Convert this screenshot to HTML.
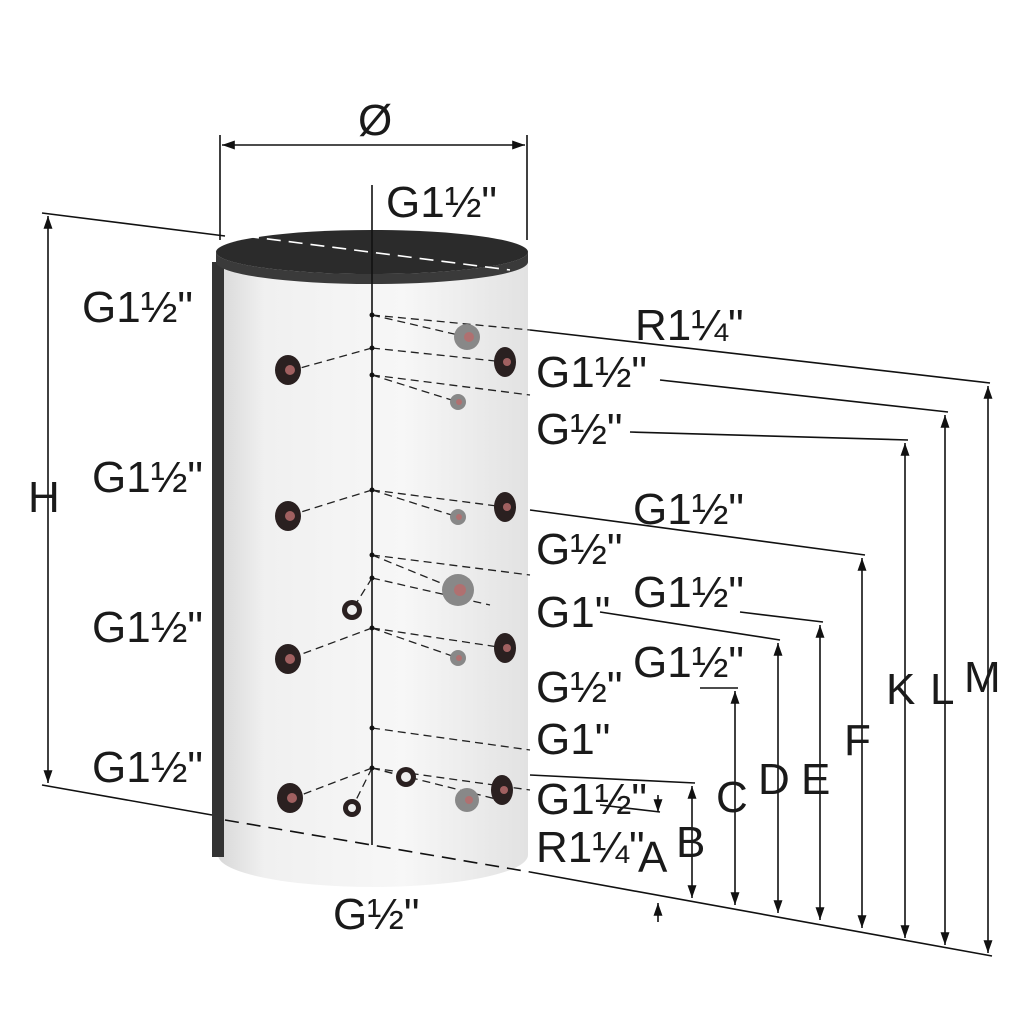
<!DOCTYPE html>
<html><head><style>
html,body{margin:0;padding:0;background:#fff;}
svg{display:block}
text{font-family:"Liberation Sans",sans-serif;font-size:44px;fill:#1a1a1a}
</style></head><body>
<svg width="1024" height="1024" viewBox="0 0 1024 1024" xmlns="http://www.w3.org/2000/svg">
<defs>
<linearGradient id="body" x1="0" x2="1" y1="0" y2="0">
<stop offset="0" stop-color="#d8d8d8"/><stop offset="0.15" stop-color="#f0f0f0"/><stop offset="0.6" stop-color="#f7f7f7"/><stop offset="1" stop-color="#e2e2e2"/>
</linearGradient>
<marker id="ar" viewBox="0 0 10 10" refX="10" refY="5" markerWidth="8" markerHeight="8" orient="auto-start-reverse"><path d="M0,1.5 L10,5 L0,8.5 Z" fill="#111"/></marker>
</defs>
<path d="M218,258 L528,258 L528,855 A155,32 0 0 1 218,855 Z" fill="url(#body)"/>
<rect x="212" y="262" width="12" height="595" fill="#333"/>
<path d="M216,252 A156,22 0 0 0 528,252 L528,262 A156,22 0 0 1 216,262Z" fill="#3a3a3a"/>
<ellipse cx="372" cy="252" rx="156" ry="22" fill="#2b2b2b"/>
<g stroke="#111" stroke-width="1.6" fill="none">
<line x1="220" y1="135" x2="220" y2="240"/><line x1="527" y1="135" x2="527" y2="240"/>
<line x1="222" y1="145" x2="525" y2="145" marker-start="url(#ar)" marker-end="url(#ar)"/>
<line x1="42" y1="213" x2="225" y2="236"/><line x1="42" y1="785" x2="212" y2="815"/>
<line x1="48" y1="216" x2="48" y2="783" marker-start="url(#ar)" marker-end="url(#ar)"/>
<line x1="245" y1="236" x2="510" y2="270" stroke="#fff" stroke-dasharray="14,8"/>
<line x1="372" y1="185" x2="372" y2="845"/>
<line x1="225" y1="820" x2="530" y2="872" stroke-dasharray="14,8"/>
<line x1="530" y1="872" x2="992" y2="956"/>
<line x1="530" y1="330" x2="990" y2="383"/>
<line x1="660" y1="380" x2="948" y2="412"/>
<line x1="630" y1="432" x2="908" y2="440"/>
<line x1="530" y1="510" x2="865" y2="555"/>
<line x1="740" y1="612" x2="823" y2="622"/>
<line x1="600" y1="612" x2="780" y2="640"/>
<line x1="700" y1="688" x2="738" y2="688"/>
<line x1="530" y1="775" x2="695" y2="783"/>
<line x1="600" y1="805" x2="660" y2="812"/>
<line x1="988" y1="386" x2="988" y2="953" marker-start="url(#ar)" marker-end="url(#ar)"/>
<line x1="945" y1="415" x2="945" y2="945" marker-start="url(#ar)" marker-end="url(#ar)"/>
<line x1="905" y1="443" x2="905" y2="938" marker-start="url(#ar)" marker-end="url(#ar)"/>
<line x1="862" y1="558" x2="862" y2="928" marker-start="url(#ar)" marker-end="url(#ar)"/>
<line x1="820" y1="625" x2="820" y2="920" marker-start="url(#ar)" marker-end="url(#ar)"/>
<line x1="778" y1="643" x2="778" y2="913" marker-start="url(#ar)" marker-end="url(#ar)"/>
<line x1="735" y1="691" x2="735" y2="905" marker-start="url(#ar)" marker-end="url(#ar)"/>
<line x1="692" y1="786" x2="692" y2="898" marker-start="url(#ar)" marker-end="url(#ar)"/>
<line x1="658" y1="795" x2="658" y2="812" marker-end="url(#ar)"/>
<line x1="658" y1="922" x2="658" y2="903" marker-end="url(#ar)"/>
</g>
<g stroke="#222" stroke-width="1.3" fill="none" stroke-dasharray="8,5">
<path d="M372,315 L467,337 M372,315 L530,330 M372,348 L505,362 M372,348 L275,375 M372,375 L458,402 M372,375 L530,395 M372,490 L275,520 M372,490 L505,507 M372,490 L458,517 M372,555 L458,590 M372,555 L530,575 M372,578 L352,610 M372,578 L490,605 M372,628 L505,648 M372,628 L275,664 M372,628 L458,658 M372,728 L530,750 M372,768 L275,805 M372,768 L406,777 M372,768 L352,808 M372,768 L500,800 M372,768 L530,790"/>
</g>
<g fill="#111"><circle cx="372" cy="315" r="2.5"/><circle cx="372" cy="348" r="2.5"/><circle cx="372" cy="375" r="2.5"/><circle cx="372" cy="490" r="2.5"/><circle cx="372" cy="555" r="2.5"/><circle cx="372" cy="578" r="2.5"/><circle cx="372" cy="628" r="2.5"/><circle cx="372" cy="728" r="2.5"/><circle cx="372" cy="768" r="2.5"/></g>
<g>
<g fill="#2a2020"><ellipse cx="288" cy="370" rx="13" ry="15"/><ellipse cx="288" cy="516" rx="13" ry="15"/><ellipse cx="288" cy="659" rx="13" ry="15"/><ellipse cx="290" cy="798" rx="13" ry="15"/>
<ellipse cx="505" cy="362" rx="11" ry="15"/><ellipse cx="505" cy="507" rx="11" ry="15"/><ellipse cx="505" cy="648" rx="11" ry="15"/><ellipse cx="502" cy="790" rx="11" ry="15"/>
<circle cx="352" cy="610" r="10"/><circle cx="406" cy="777" r="10"/><circle cx="352" cy="808" r="9"/></g>
<g fill="#a06060"><circle cx="290" cy="370" r="5"/><circle cx="290" cy="516" r="5"/><circle cx="290" cy="659" r="5"/><circle cx="292" cy="798" r="5"/><circle cx="507" cy="362" r="4"/><circle cx="507" cy="507" r="4"/><circle cx="507" cy="648" r="4"/><circle cx="504" cy="790" r="4"/></g>
<g fill="#eee"><circle cx="352" cy="610" r="5"/><circle cx="406" cy="777" r="5"/><circle cx="352" cy="808" r="4"/></g>
<g fill="#888"><circle cx="467" cy="337" r="13"/><circle cx="458" cy="402" r="8"/><circle cx="458" cy="517" r="8"/><circle cx="458" cy="590" r="16"/><circle cx="458" cy="658" r="8"/><circle cx="467" cy="800" r="12"/></g>
<g fill="#b07070"><circle cx="469" cy="337" r="5"/><circle cx="459" cy="402" r="3"/><circle cx="459" cy="517" r="3"/><circle cx="460" cy="590" r="6"/><circle cx="459" cy="658" r="3"/><circle cx="469" cy="800" r="4"/></g>
</g>
<text x="358" y="135">Ø</text>
<text x="386" y="217">G1½"</text>
<text x="82" y="322">G1½"</text>
<text x="92" y="492">G1½"</text>
<text x="92" y="642">G1½"</text>
<text x="92" y="782">G1½"</text>
<text x="28" y="512">H</text>
<text x="635" y="340">R1¼"</text>
<text x="536" y="387">G1½"</text>
<text x="536" y="444">G½"</text>
<text x="633" y="524">G1½"</text>
<text x="536" y="564">G½"</text>
<text x="633" y="607">G1½"</text>
<text x="536" y="627">G1"</text>
<text x="633" y="677">G1½"</text>
<text x="536" y="702">G½"</text>
<text x="536" y="754">G1"</text>
<text x="536" y="814">G1½"</text>
<text x="536" y="862">R1¼"</text>
<text x="638" y="872">A</text>
<text x="676" y="857">B</text>
<text x="716" y="812">C</text>
<text x="758" y="794">D</text>
<text x="801" y="794">E</text>
<text x="844" y="755">F</text>
<text x="886" y="704">K</text>
<text x="930" y="704">L</text>
<text x="964" y="692">M</text>
<text x="333" y="929">G½"</text>
</svg>
</body></html>
